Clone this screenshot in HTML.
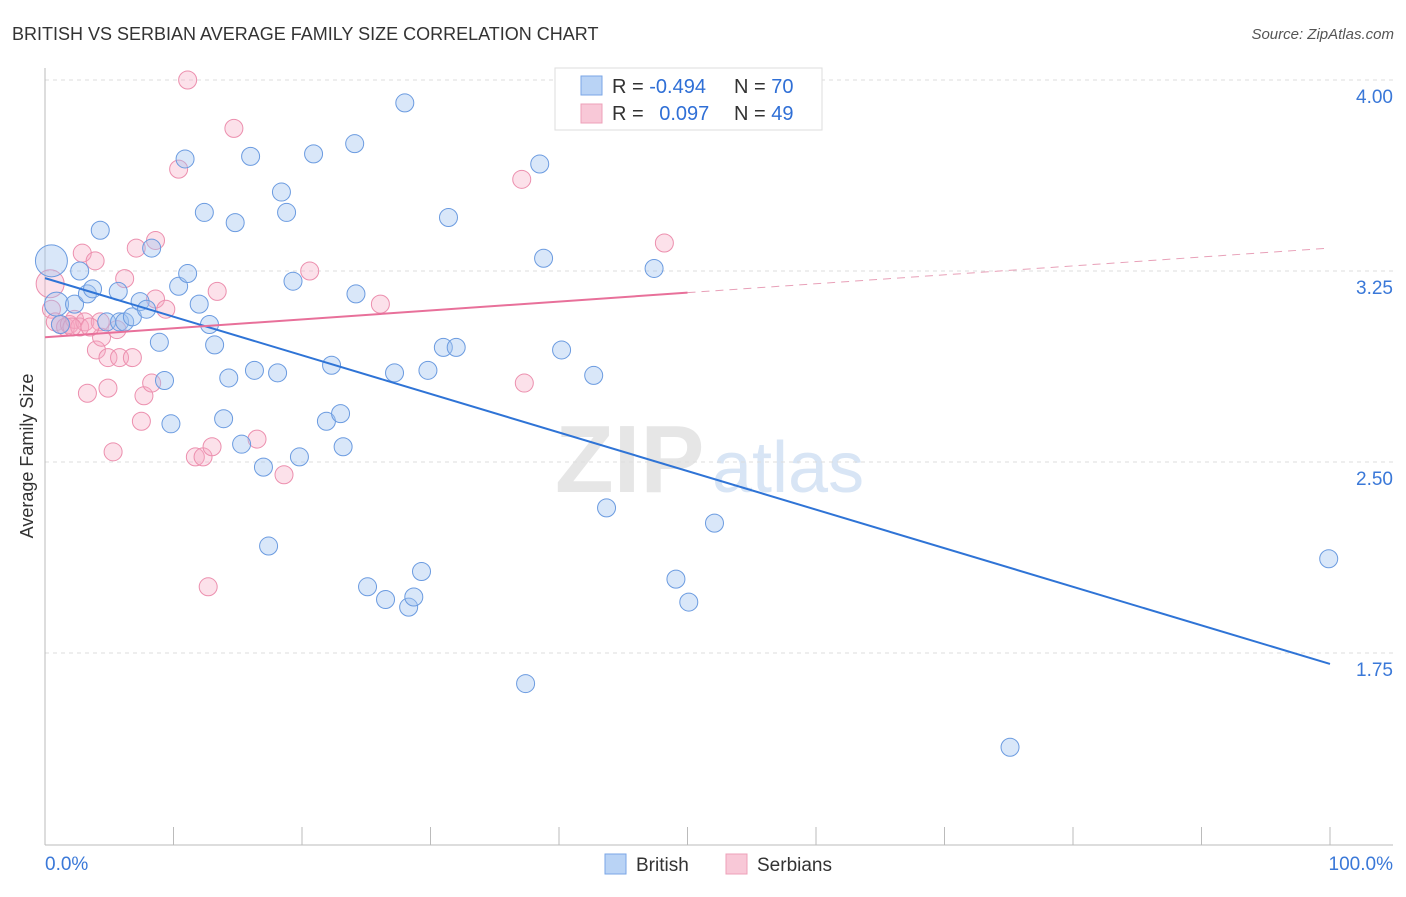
<!DOCTYPE html>
<html><head><meta charset="utf-8"><style>
body{margin:0;background:#fff;font-family:"Liberation Sans",sans-serif;}
svg text{font-family:"Liberation Sans",sans-serif;}
</style></head><body>
<svg id="chart" width="1406" height="892" xmlns="http://www.w3.org/2000/svg">
<text x="12" y="40" font-size="18" fill="#333">BRITISH VS SERBIAN AVERAGE FAMILY SIZE CORRELATION CHART</text>
<text x="1394" y="39" font-size="15" fill="#555" font-style="italic" text-anchor="end">Source: ZipAtlas.com</text>
<text transform="translate(33,456) rotate(-90)" font-size="18" fill="#333" text-anchor="middle">Average Family Size</text>
<g><text x="555" y="492" font-size="96" fill="#e6e6e6" font-family="Liberation Serif" font-weight="bold">ZIP</text><text x="712" y="492" font-size="72" fill="#d8e5f5">atlas</text></g>
<g id="grid"></g><g id="axes"></g><g id="pts"></g><g id="lines"></g>
<g>
<rect x="555" y="68" width="267" height="62" fill="#fff" stroke="#ddd"/>
<rect x="581" y="76" width="21" height="19" fill="#b9d3f5" stroke="#7aa6e6"/>
<rect x="581" y="104" width="21" height="19" fill="#f8c8d7" stroke="#eea0b8"/>
<text x="612" y="93" font-size="20" fill="#333">R = <tspan fill="#2f6fd6">-0.494</tspan></text>
<text x="734" y="93" font-size="20" fill="#333">N = <tspan fill="#2f6fd6">70</tspan></text>
<text x="612" y="120" font-size="20" fill="#333">R = <tspan fill="#2f6fd6" dx="10">0.097</tspan></text>
<text x="734" y="120" font-size="20" fill="#333">N = <tspan fill="#2f6fd6">49</tspan></text>
</g>
<g>
<rect x="605" y="854" width="21" height="20" fill="#b9d3f5" stroke="#7aa6e6"/>
<text x="636" y="871" font-size="19" fill="#333">British</text>
<rect x="726" y="854" width="21" height="20" fill="#f8c8d7" stroke="#eea0b8"/>
<text x="757" y="871" font-size="19" fill="#333">Serbians</text>
</g>
</svg>
<script>
const yTicks=[4.00,3.25,2.50,1.75];
const yTickLabels=["4.00","3.25","2.50","1.75"];
const xEndLabels=["0.0%","100.0%"];
const britishX=[0.5,0.9,1.2,2.3,2.7,3.3,3.7,4.3,4.8,5.7,5.8,6.2,6.8,7.4,7.9,8.3,8.9,9.3,9.8,10.4,10.9,11.1,12.0,12.4,12.8,13.2,13.9,14.3,14.8,15.3,16.0,16.3,17.0,17.4,18.1,18.4,18.8,19.3,19.8,20.9,21.9,22.3,23.0,23.2,24.1,24.2,25.1,26.5,27.2,28.0,28.3,28.7,29.3,29.8,31.0,31.4,32.0,37.4,38.5,38.8,40.2,42.7,43.7,47.4,49.1,50.1,52.1,75.1,99.9];
const britishY=[3.29,3.12,3.04,3.12,3.25,3.16,3.18,3.41,3.05,3.17,3.05,3.05,3.07,3.13,3.10,3.34,2.97,2.82,2.65,3.19,3.69,3.24,3.12,3.48,3.04,2.96,2.67,2.83,3.44,2.57,3.70,2.86,2.48,2.17,2.85,3.56,3.48,3.21,2.52,3.71,2.66,2.88,2.69,2.56,3.75,3.16,2.01,1.96,2.85,3.91,1.93,1.97,2.07,2.86,2.95,3.46,2.95,1.63,3.67,3.30,2.94,2.84,2.32,3.26,2.04,1.95,2.26,1.38,2.12];
const serbX=[0.4,0.5,0.8,1.2,1.6,1.9,2.3,2.7,3.1,2.9,3.3,3.9,4.0,4.4,4.9,4.9,5.3,5.6,5.8,6.2,6.8,7.1,7.5,7.7,8.3,8.6,8.6,9.4,10.4,11.1,11.7,12.3,12.7,13.0,13.4,14.7,16.5,18.6,20.6,26.1,37.1,37.3,48.2,4.3,3.5,2.1];
const serbY=[3.20,3.10,3.05,3.04,3.03,3.04,3.06,3.03,3.05,3.32,2.77,3.29,2.94,2.99,2.79,2.91,2.54,3.02,2.91,3.22,2.91,3.34,2.66,2.76,2.81,3.37,3.14,3.10,3.65,4.00,2.52,2.52,2.01,2.56,3.17,3.81,2.59,2.45,3.25,3.12,3.61,2.81,3.36,3.05,3.03,3.03];
const britishTrend=[3.222,1.707];
const serbTrend=[2.99,3.34];
const NS="http://www.w3.org/2000/svg";
const sx=v=>45+v*12.85;
const sy=v=>80+(4-v)*254.67;
function mk(tag,attrs,parent){const e=document.createElementNS(NS,tag);for(const k in attrs)e.setAttribute(k,attrs[k]);document.getElementById(parent).appendChild(e);return e;}
yTicks.forEach((t,i)=>{
 const g=mk('line',{x1:45,x2:1393,y1:sy(t),y2:sy(t),stroke:'#ddd','stroke-dasharray':'4,4'},'grid');
 
 
 const tx=mk('text',{x:1393,y:sy(t)+23,'font-size':19,fill:'#3a78d8','text-anchor':'end'},'axes');
 tx.textContent=yTickLabels[i];
 
 
});
const ax=mk('line',{x1:45,x2:45,y1:68,y2:845,stroke:'#bbb'},'axes');


const bx=mk('line',{x1:45,x2:1393,y1:845,y2:845,stroke:'#bbb'},'axes');


for(let i=0;i<=10;i++){const t=mk('line',{x1:sx(i*10),x2:sx(i*10),y1:827,y2:845,stroke:'#bbb'},'axes');
 
 }
const xl0=mk('text',{x:45,y:870,'font-size':19,fill:'#3a78d8'},'axes');xl0.textContent=xEndLabels[0];


const xl1=mk('text',{x:1393,y:870,'font-size':19,fill:'#3a78d8','text-anchor':'end'},'axes');xl1.textContent=xEndLabels[1];


serbX.forEach((x,i)=>{const c=mk('circle',{cx:sx(x),cy:sy(serbY[i]),r:i===0?14:9,fill:'rgba(245,170,196,0.35)',stroke:'#ec8fae','stroke-width':1},'pts');
 
 });
britishX.forEach((x,i)=>{const c=mk('circle',{cx:sx(x),cy:sy(britishY[i]),r:i===0?16:(i===1?12:9),fill:'rgba(160,195,240,0.4)',stroke:'#6b9be0','stroke-width':1},'pts');
 
 });
const bl=mk('line',{x1:sx(0),y1:sy(britishTrend[0]),x2:sx(100),y2:sy(britishTrend[1]),stroke:'#2f74d6','stroke-width':2},'lines');


const mid=serbTrend[0]+(serbTrend[1]-serbTrend[0])*0.5;
const pl=mk('line',{x1:sx(0),y1:sy(serbTrend[0]),x2:sx(50),y2:sy(mid),stroke:'#e8709a','stroke-width':2},'lines');


const pd=mk('line',{x1:sx(50),y1:sy(mid),x2:sx(100),y2:sy(serbTrend[1]),stroke:'#e8a0b8','stroke-width':1,'stroke-dasharray':'8,6'},'lines');


</script>
</body></html>
